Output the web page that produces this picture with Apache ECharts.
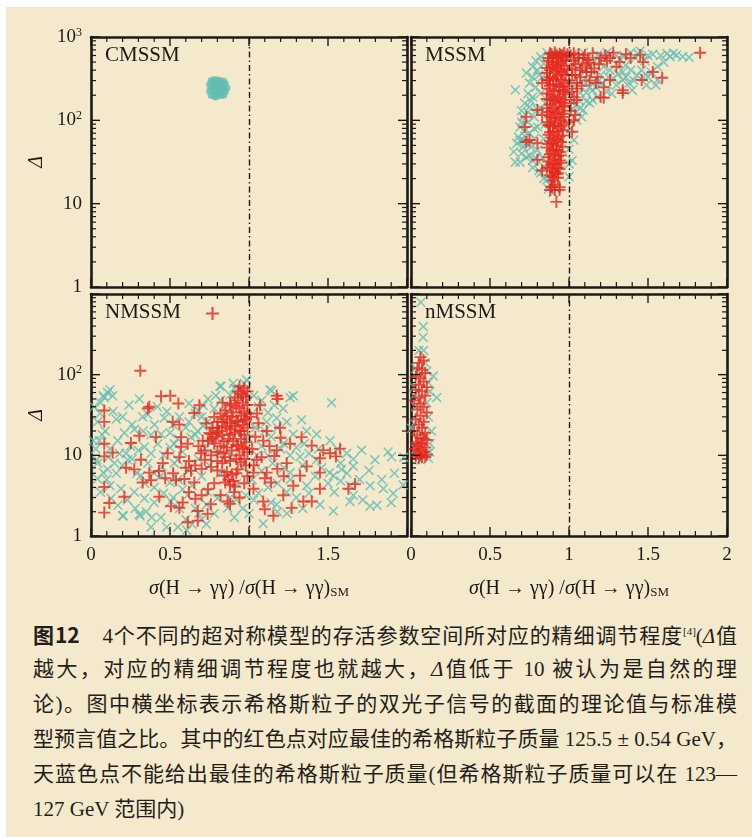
<!DOCTYPE html>
<html>
<head>
<meta charset="utf-8">
<script src="https://cdn.jsdelivr.net/npm/echarts@6/dist/echarts.min.js"></script>
<style>
  html, body { margin: 0; padding: 0; background: #fff; }
  #bg { position: absolute; left: 6px; top: 7px; width: 746px; height: 830px; background: #f4e9cd; }
  #chart { position: absolute; left: 0; top: 0; width: 752px; height: 600px; }
  #cap { position: absolute; left: 33px; top: 617px; width: 704px; color: #231e1a;
         font-family: "Liberation Serif", "Noto Sans CJK SC"; font-size: 21px; }
  #cap div { height: 35px; line-height: 35px; white-space: nowrap; text-align: justify; text-align-last: justify; }
  #cap div.last { text-align-last: left; }
  #cap b { font-family: "Noto Sans CJK SC"; font-weight: 700; }
  #cap sup { font-size: 11px; line-height: 0; }
</style>
</head>
<body>
<div id="bg"></div>
<div id="chart"></div>
<div id="cap">
  <div><b>图12</b>　4个不同的超对称模型的存活参数空间所对应的精细调节程度<sup>[4]</sup>(<i>Δ</i>值</div>
  <div>越大，对应的精细调节程度也就越大，<i>Δ</i>值低于 10 被认为是自然的理</div>
  <div>论)。图中横坐标表示希格斯粒子的双光子信号的截面的理论值与标准模</div>
  <div>型预言值之比。其中的红色点对应最佳的希格斯粒子质量 125.5 ± 0.54 GeV，</div>
  <div>天蓝色点不能给出最佳的希格斯粒子质量(但希格斯粒子质量可以在 123—</div>
  <div class="last">127 GeV 范围内)</div>
</div>
<script>
// 刻度
var xTickValues = [0, 0.5, 1, 1.5, 2];
var xMinorValues = [0.1, 0.2, 0.3, 0.4, 0.6, 0.7, 0.8, 0.9, 1.1, 1.2, 1.3, 1.4, 1.6, 1.7, 1.8, 1.9];
var xLabelsLeft = ['0', '0.5', '', '1.5', ''];
var xLabelsRight = ['0', '0.5', '1', '1.5', '2'];
var yTickValues = [1, 10, 100, 1000];
var yMinorValues = [2, 3, 4, 5, 6, 7, 8, 9, 20, 30, 40, 50, 60, 70, 80, 90, 200, 300, 400, 500, 600, 700, 800, 900];
var yLabelsTop = ['1', '10', '10{s|2}', '10{s|3}'];
var yLabelsBottom = ['1', '10', '10{s|2}', ''];

// 数据 [σ/σSM, Δ]
var sky_CMSSM = [[0.76,300],[0.78,310],[0.80,305],[0.82,300],[0.84,295],[0.75,270],[0.77,280],[0.79,275],[0.81,285],[0.83,270],
  [0.85,275],[0.76,245],[0.78,255],[0.80,250],[0.82,240],[0.84,250],[0.86,245],[0.75,225],[0.77,220],[0.79,230],[0.81,215],
  [0.83,225],[0.85,220],[0.76,200],[0.78,195],[0.80,205],[0.82,198],[0.84,200],[0.79,190],[0.81,235]];

var sky_MSSM = [[0.73,370],[0.77,440],[0.82,580],[0.86,650],[0.75,280],[0.77,190],[0.75,145],[0.71,110],[0.69,83],[0.68,63],
  [0.67,53],[0.65,42],[0.66,31.5],[0.69,31.5],[0.66,232],[0.77,27],[0.82,23.4],[0.86,19.2],[0.90,13.5],[0.91,15.4],[0.80,44],
  [0.83,36],[0.71,48],[0.75,70],[0.80,83],[0.80,133],[0.82,210],[0.83,330],[0.90,610],[0.94,650],[0.72,160],[0.74,95],[0.72,65],
  [0.70,40],[0.73,36],[0.78,60],[0.78,110],[0.79,250],[0.80,400],[0.84,480],[0.76,48],[0.84,28],[0.88,17],[0.79,35],[0.74,210],
  [0.70,130],[0.85,160],[0.85,90],[0.70,95],[0.72,75],[0.74,125],[0.76,170],[0.77,330],[0.79,520],[0.81,350],[0.73,52],
  [0.75,38],[0.77,33],[0.69,57],[0.71,58],[0.78,80],[0.82,140],[0.84,60],[0.81,25],[0.84,20],[0.87,15],
  [1.02,133],[1.03,58],[1.02,33],[1.0,21],[1.06,175],[1.11,215],[1.15,175],[1.07,215],[1.09,305],
  [1.13,250],[1.13,440],[1.22,440],[1.26,400],[1.34,380],[1.09,650],[1.18,610],[1.24,650],[1.32,540],[1.39,650],[1.45,680],
  [1.39,400],[1.43,350],[1.34,305],[1.30,265],[1.24,220],[1.18,190],[1.13,162],[1.09,133],[1.05,100],[1.40,230],[1.49,265],
  [1.55,265],[1.47,330],[1.56,440],[1.60,500],[1.64,580],[1.68,610],[1.72,580],[1.76,570],[1.56,305],[1.01,80],[1.04,150],
  [1.00,45],[1.08,110],[1.12,300],[1.16,520],[1.20,350],[1.28,320],[1.36,460],[1.42,560],[1.50,600],[1.53,620],[1.30,600],
  [1.05,500],[1.02,620],[1.21,280],[1.27,210],[1.17,250],[1.10,380],[1.52,380],[1.48,520],[1.38,280],[1.00,30],[1.03,260],
  [1.20,600],[1.26,620],[1.35,590],[1.44,620],[1.58,600],[1.62,630],[1.66,640],[1.46,400],[1.50,330],[1.41,300],[1.36,330],
  [1.31,360],[1.25,330],[1.19,300],[1.15,230],[1.11,170],[1.07,140]];

var red_MSSM = [[0.88,640],[0.91,655],[0.94,630],[0.97,645],[0.99,620],[0.90,580],[0.93,560],[0.96,590],[0.87,520],[0.92,500],
  [0.95,480],[0.98,530],[0.89,440],[0.94,420],[0.97,450],[0.91,390],[0.86,370],[0.96,360],[0.99,400],[0.88,330],[0.92,310],
  [0.95,300],[0.90,270],[0.94,255],[0.97,280],[0.87,240],[0.91,225],[0.96,215],[0.89,200],[0.93,190],[0.98,205],[0.86,180],
  [0.91,170],[0.95,165],[0.88,155],[0.97,150],[0.90,140],[0.94,135],[0.87,125],[0.92,118],[0.96,120],[0.89,108],[0.95,100],
  [0.86,95],[0.91,92],[0.97,90],[0.88,84],[0.93,80],[0.96,76],[0.90,72],[0.87,67],[0.94,64],[0.91,60],[0.88,56],[0.95,55],
  [0.92,50],[0.86,47],[0.90,45],[0.94,42],[0.88,39],[0.93,37],[0.91,34],[0.87,32],[0.95,31],[0.89,29],[0.93,27],[0.90,25],
  [0.92,23],[0.88,22],[0.92,10.5],[0.88,14.6],[0.94,14.6],[0.91,17],[0.90,19],[0.93,20.5],[0.89,16],
  [0.89,620],[0.92,600],[0.95,610],[0.98,580],[0.87,560],[0.90,470],[0.93,460],[0.96,520],[0.88,400],[0.92,420],[0.95,380],
  [0.98,350],[0.87,300],[0.90,320],[0.93,340],[0.96,250],[0.99,260],[0.88,260],[0.92,270],[0.94,230],[0.97,230],[0.86,210],
  [0.90,190],[0.94,180],[0.97,175],[0.88,175],[0.92,160],[0.96,145],[0.86,140],[0.89,130],[0.93,125],[0.97,110],[0.88,112],
  [0.91,105],[0.94,96],[0.87,88],[0.90,86],[0.95,85],[0.92,74],[0.88,72],[0.96,66],[0.89,62],[0.93,58],[0.87,52],[0.90,53],
  [0.96,48],[0.92,44],[0.89,43],[0.95,38],[0.87,36],[0.91,39],[0.94,33],[0.90,30],[0.88,27],[0.92,30],[0.94,26],[0.91,24],
  [0.89,21],[0.93,23],[0.90,21],
  [0.72,83],[0.75,58],[0.80,133],[0.83,280],[0.86,425],[0.90,560],[0.83,25],[0.91,14.6],[0.94,15.8],[0.89,15.8],[0.73,110],
  [0.73,55],[0.80,53],[0.80,33.5],[0.86,27],[0.83,116],[0.86,305],[0.90,500],
  [1.06,560],[1.13,490],[1.20,560],[1.28,650],[1.11,380],[1.05,280],[1.05,175],[1.04,116],[1.18,330],[1.22,250],[1.26,305],
  [1.30,440],[1.39,560],[1.45,610],[1.47,500],[1.34,230],[1.20,190],[1.02,73],[1.83,646],[1.59,324],[1.46,305],[1.53,380],
  [1.34,213],[1.22,186],[1.01,600],[1.03,520],[1.08,430],[1.02,420],[1.10,610],[1.15,640],[1.00,300],[1.02,220],[1.04,350],
  [1.07,330],[1.16,420],[1.24,520],[1.01,160],[1.00,95],[1.03,640],[1.06,620],[1.09,560],[1.12,530],[1.04,470],[1.07,400],
  [1.11,460],[1.14,380],[1.19,470],[1.23,600],[1.26,560],[1.32,500],[1.36,620],[1.02,350],[1.05,240],[1.03,190],[1.08,260],
  [1.13,300],[1.17,280],[1.01,130],[1.03,100]];

var sky_NMSSM = [[0.105,60],[0.084,52],[0.137,54.7],[0.306,50],[0.327,30],[0.211,19],[0.274,21],[0.401,24],[0.464,29],[0.042,26],
  [0.053,15.2],[0.169,15.2],[0.042,8.0],[0.105,6.7],[0.148,8.0],[0.222,10.6],[0.232,8.8],[0.338,12.7],[0.380,10.6],[0.422,13.9],
  [0.443,18.3],[0.527,13.9],[0.042,5.1],[0.190,3.86],[0.200,1.78],[0.306,1.86],[0.380,1.29],[0.443,1.70],[0.506,2.68],[0.612,3.22],
  [0.738,3.5],[0.80,2.93],[0.865,2.23],[0.907,1.70],[0.633,16.7],[0.823,72],[0.907,68],[0.928,54.7],[0.970,78],[0.738,26],
  [0.675,20],[0.549,8.8],[0.316,5.6],[0.274,3.5],[0.127,2.93],[0.338,2.93],[0.527,8.0],[0.443,5.6],[0.886,10.6],[0.949,16.7],
  [0.12,65],[0.078,54.7],[0.057,33],[0.015,15.2],[0.036,8.8],[0.078,6.1],[0.12,4.2],[0.204,1.78],[0.31,1.78],[0.384,1.70],
  [0.479,1.29],[0.55,1.29],[0.606,1.18],[0.732,2.45],[0.816,72],[0.90,78],[0.985,86],[0.94,65],[0.79,55],[0.71,41.7],[0.66,33],
  [0.60,22],[0.71,23],[0.90,24],
  [1.28,54.7],[1.143,63],[1.523,45],[1.333,27.6],[1.713,11.6],[1.797,8.8],[1.903,9.6],[1.66,7.3],[1.766,4.2],[1.85,3.86],
  [1.913,3.37],[1.766,2.34],[1.81,2.4],[1.639,2.68],[1.534,2.04],[1.449,2.45],[1.365,4.2],[1.534,5.6],[1.586,6.7],[1.51,6.1],
  [1.618,10.6],[1.513,15.2],[1.428,18.3],[1.365,20],[1.28,18.3],[1.239,26],[1.217,38],[1.175,29],[1.112,26],[1.26,6.1],
  [1.323,9.6],[1.428,8.8],[1.239,3.5],[1.175,2.45],[1.09,1.42],[1.639,4.2],[1.975,4.3],[1.26,52],[1.133,65],
  [0.55,5.0],[0.62,6.5],[0.68,9.0],[0.72,12],[0.76,15],[0.64,4.2],[0.70,5.5],[0.58,3.8],[0.75,7.5],[0.82,6.0],[0.86,8.5],
  [0.80,11],[0.84,14],[0.92,4.5],[0.96,7],[1.02,5],[1.05,10],[1.08,13],[1.12,4],[1.15,8],[1.20,12],[1.03,2.8],[0.98,3.2],
  [0.88,3.0],[0.66,2.2],[0.70,1.6],[0.78,1.9],[0.50,4.6],[0.45,7.2],[0.40,4.0],[0.36,8.0],[0.30,11.5],[0.25,13],[0.18,10.5],
  [0.12,12],[0.09,20],[0.16,28],[0.24,42],[0.38,18],[0.50,19],[0.56,30],[0.62,44],[0.68,36],[0.74,50],[0.86,40],[1.06,40],
  [1.10,20],[1.00,16],[0.96,28],[1.35,14],[1.44,12],[1.58,8],[1.70,5.0],[1.90,2.6],[1.98,9.5],
  [0.02,40],[0.06,45],[0.14,35],[0.20,30],[0.26,24],[0.33,20],[0.36,32],[0.42,40],[0.48,35],[0.52,24],[0.03,12],[0.07,18],
  [0.11,9.5],[0.16,6.0],[0.20,7.5],[0.26,9.0],[0.29,6.0],[0.34,4.5],[0.40,6.0],[0.46,10.0],[0.50,12.5],[0.55,16.0],[0.58,11.0],
  [0.06,3.5],[0.10,5.0],[0.17,2.4],[0.23,2.8],[0.28,2.2],[0.35,2.0],[0.40,2.6],[0.46,3.4],[0.52,3.0],[0.56,2.2],[0.60,1.6],
  [0.64,1.4],[0.68,1.9],[0.73,1.4],[0.62,26],[0.66,18],[0.70,30],[0.78,38],[0.82,48],[0.88,56],[0.98,62],[1.03,55],[1.08,48],
  [1.12,34],[1.16,42],[1.04,22],[1.14,17],[1.18,22],[1.22,14],[1.26,10],[1.30,12.5],[1.34,7.5],[1.38,10.5],[1.42,5.5],
  [1.46,7.0],[1.50,4.5],[1.54,3.5],[1.58,4.8],[1.62,6.0],[1.66,3.2],[1.72,2.8],[1.30,3.0],[1.34,2.2],[1.24,1.9],[1.18,2.0],
  [1.14,2.6],[1.06,3.4],[1.00,1.9],[0.96,2.2],[0.92,2.8],[1.08,6.4],[1.12,10],[1.18,4.5],[1.26,5.0],[1.22,7.0],[1.38,3.4],
  [1.56,12],[1.66,9],[1.76,6.5],[1.84,5.0],[1.92,6.0],[1.88,11]];

var red_NMSSM = [[0.312,112],[0.084,36],[0.084,26],[0.443,54],[0.502,54.7],[0.553,44],[0.359,38],[0.369,40],[0.517,26],[0.559,24],
  [0.686,41.7],[0.654,33.4],[0.084,13.9],[0.084,9.7],[0.137,10.8],[0.306,17.5],[0.253,14.2],[0.411,16.8],[0.570,16.8],[0.570,12.8],
  [0.316,8.8],[0.222,7.0],[0.274,6.7],[0.369,6.1],[0.454,8.0],[0.485,10.6],[0.327,4.6],[0.380,4.9],[0.084,4.05],[0.211,3.07],
  [0.432,3.07],[0.116,2.56],[0.084,1.95],[0.506,2.34],[0.559,2.23],[0.612,1.48],[0.675,1.55],[0.675,2.04],[0.759,2.47],[0.738,1.88],
  [0.633,6.45],[0.696,10.6],[0.612,13.9],[0.707,15.2],[0.759,18.3],[0.80,22],[0.833,45],[0.886,41.7],[0.844,5.6],[0.865,2.68],
  [0.907,3.5],[0.538,4.9],[0.591,5.1],[0.654,4.6],[0.928,6.7],
  [1.175,54.7],[1.18,50],[1.07,41.7],[1.05,33],[1.196,22],[1.333,16.8],[1.397,13.2],[1.47,11.6],[1.576,12.1],[1.55,9.7],
  [1.449,9.2],[1.365,7.3],[1.449,6.1],[1.323,5.6],[1.449,3.86],[1.629,3.86],[1.671,4.4],[1.28,4.2],[1.217,3.2],[1.344,2.68],
  [1.397,2.68],[1.27,2.23],[1.154,1.78],[1.09,2.68],[1.10,2.15],[1.112,6.1],[1.239,8],[1.175,11.6],[1.09,15.2],[1.112,20],
  [1.049,8.8],[1.028,6.1],[1.028,3.86],[1.513,10.6],[1.26,13.9],
  [0.94,72],[0.97,68],[0.99,62],[0.95,58],[0.98,52],[0.93,48],[0.96,45],[0.99,42],[0.94,38],[0.97,35],[0.95,31],[0.98,28],
  [0.93,26],[0.96,24],[0.99,22],[0.94,20],[0.97,18],[0.95,16],[0.98,14.5],[0.93,13],[0.96,12],[0.99,11],[0.94,10],[0.97,9],
  [0.95,8.2],[0.98,7.5],
  [0.78,30],[0.82,33],[0.86,31],[0.90,34],[0.80,26],[0.84,28],[0.88,25],[0.92,27],[0.77,22],[0.81,20],[0.85,23],[0.89,21],
  [0.91,19],[0.79,17],[0.83,18],[0.87,16],[0.90,15],[0.78,14],[0.82,13],[0.86,12.5],[0.89,11.5],[0.80,11],[0.84,10.5],
  [0.92,13.5],[0.75,19],[0.73,25],[0.74,15],
  [0.86,6.2],[0.89,5.8],[0.92,6.0],[0.87,5.0],[0.90,4.8],[0.88,4.3],[0.91,4.1],[0.85,4.6],
  [0.62,8.5],[0.66,7.5],[0.70,6.8],[0.72,8.8],[0.76,7.2],[0.80,6.5],[0.83,8.0],[0.78,4.5],[0.74,3.8],[0.70,3.2],[0.66,2.9],
  [0.62,3.5],[0.58,2.6],[0.82,3.2],[0.88,2.5],[0.94,3.0],[0.97,4.5],[0.99,5.5],[0.60,7.0],[0.56,9.5],[0.52,6.0],[0.47,5.2],
  [0.43,6.4],[1.02,12],[1.04,17],[1.06,25],[1.01,30],[1.08,9.5],[1.03,7.5],[1.10,5.2],[1.14,4.6],[1.18,6.8],[1.22,5.5],
  [1.16,9.8],[1.13,13],[1.20,16.5],
  [0.85,36],[0.88,44],[0.91,52],[0.93,62],[0.96,55],[0.92,40],[0.89,30],[0.86,22],[0.83,26],[0.80,19],[0.77,16],[0.84,15],
  [0.88,18],[0.91,23],[0.95,20],[0.97,27],[0.99,33],[0.97,12.5],[0.92,9],[0.88,8.5],[0.85,9.5],[0.80,8.5],[0.76,10],
  [0.72,11.5],[0.68,13]];

var sky_nMSSM = [[0.062,790],[0.078,395],[0.077,290],[0.05,200],[0.08,200],[0.141,96],[0.163,52],[0.12,62],[0.004,21.6],
  [0.03,120],[0.10,110],[0.11,80],[0.02,70],[0.10,45],[0.03,40],[0.11,30],[0.02,25],[0.09,18],[0.12,14],[0.03,12],[0.10,10.5],
  [0.11,9.2],[0.06,8.8],[0.02,55],[0.09,140],[0.13,20],[0.12,11]];

var red_nMSSM = [[0.06,165],[0.05,140],[0.08,150],[0.04,120],[0.07,115],[0.09,105],[0.03,95],[0.06,90],[0.08,82],[0.05,75],
  [0.10,70],[0.03,65],[0.07,62],[0.09,55],[0.05,52],[0.02,48],[0.06,44],[0.08,40],[0.04,37],[0.10,34],[0.06,31],[0.03,28],
  [0.08,26],[0.05,24],[0.07,22],[0.02,20],[0.09,19],[0.04,18],[0.06,16.5],[0.10,15.5],[0.03,14.5],[0.07,14],[0.05,13],
  [0.09,12.5],[0.02,12],[0.06,11.5],[0.08,11],[0.04,10.5],[0.10,10.2],[0.03,9.8],[0.07,9.5],[0.05,9.2],[0.09,9.6],[0.06,10],
  [0.04,13.8],[0.08,16]];

var SKY = '#62bdb3', RED = '#e5281f', INK = '#1c1a18';
var SERIF = '"Liberation Serif", serif';
var plusPath = 'path://M4.2,0H5.8V4.2H10V5.8H5.8V10H4.2V5.8H0V4.2H4.2Z';
var crossPath = 'path://M0,1.1L1.1,0L5,3.9L8.9,0L10,1.1L6.1,5L10,8.9L8.9,10L5,6.1L1.1,10L0,8.9L3.9,5Z';

var grids = [
  { left: 91, top: 37, width: 316, height: 250 },
  { left: 411, top: 37, width: 316, height: 250 },
  { left: 91, top: 294, width: 316, height: 252 },
  { left: 411, top: 294, width: 316, height: 252 }
];
var panelNames = ['CMSSM', 'MSSM', 'NMSSM', 'nMSSM'];

var xAxes = [], yAxes = [];
grids.forEach(function (g, i) {
  var bottomRow = i >= 2, leftCol = i % 2 === 0;
  var xl = leftCol ? xLabelsLeft : xLabelsRight;
  ['bottom', 'top'].forEach(function (pos) {
    var withLabel = pos === 'bottom' && bottomRow;
    var ax = {
      type: 'value', gridIndex: i, position: pos, min: 0, max: 2, interval: 0.5,
      axisLine: { show: true, onZero: false, lineStyle: { color: INK, width: 2.6 } },
      axisTick: { show: false }, minorTick: { show: false },
      splitLine: { show: false },
      axisLabel: { show: withLabel, margin: 10, color: INK, fontFamily: SERIF, fontSize: 19 }
    };
    if (withLabel) {
      ax.axisLabel.formatter = function (v) { return xl[xTickValues.indexOf(v)] || ''; };
      ax.name = '{i|σ}(H → γγ) /{i|σ}(H → γγ){sub|SM}';
      ax.nameLocation = 'middle';
      ax.nameGap = 42;
      ax.nameTextStyle = { color: INK, fontFamily: SERIF, fontSize: 20,
        rich: { i: { fontStyle: 'italic', fontFamily: SERIF, fontSize: 20, color: INK },
                sub: { fontFamily: SERIF, fontSize: 13, color: INK, verticalAlign: 'bottom', padding: [8, 0, 0, 0] } } };
    }
    xAxes.push(ax);
  });
  var yl = i === 0 ? yLabelsTop : yLabelsBottom;
  ['left', 'right'].forEach(function (pos) {
    var withLabel = pos === 'left' && leftCol;
    var ay = {
      type: 'log', logBase: 10, gridIndex: i, position: pos, min: 1, max: 1000,
      axisLine: { show: true, onZero: false, lineStyle: { color: INK, width: 2.6 } },
      axisTick: { show: false }, minorTick: { show: false },
      splitLine: { show: false },
      axisLabel: { show: withLabel, margin: 9, color: INK, fontFamily: SERIF, fontSize: 19 }
    };
    if (withLabel) {
      ay.axisLabel.formatter = function (v) { return yl[yTickValues.indexOf(Math.round(v))] || ''; };
      ay.axisLabel.rich = { s: { fontFamily: SERIF, fontSize: 12, color: INK, verticalAlign: 'top', padding: [0, 0, 9, 0] } };
      ay.name = 'Δ';
      ay.nameLocation = 'middle';
      ay.nameGap = 44;
      ay.nameRotate = 90;
      ay.nameTextStyle = { color: INK, fontFamily: SERIF, fontSize: 20, fontStyle: 'italic' };
    }
    yAxes.push(ay);
  });
});

function dashLine() {
  return {
    silent: true, symbol: 'none', label: { show: false },
    lineStyle: { color: INK, width: 1.4, type: [6, 3, 1.5, 3] },
    data: [{ xAxis: 1 }]
  };
}
function skySeries(name, data, gi, size, symbol) {
  return { name: name, type: 'scatter', xAxisIndex: gi * 2, yAxisIndex: gi * 2, data: data,
    symbol: symbol || crossPath, symbolSize: size || 10, itemStyle: { color: SKY },
    markLine: dashLine() };
}
function redSeries(name, data, gi) {
  return { name: name, type: 'scatter', xAxisIndex: gi * 2, yAxisIndex: gi * 2, data: data,
    symbol: plusPath, symbolSize: 12, itemStyle: { color: RED } };
}

var chart = echarts.init(document.getElementById('chart'));
chart.setOption({
  animation: false,
  grid: grids,
  xAxis: xAxes,
  yAxis: yAxes,
  legend: {
    data: [{ name: 'NMSSM 红色点', icon: plusPath }],
    left: 206, top: 307, padding: 0, itemWidth: 13, itemHeight: 13, selectedMode: false,
    formatter: function () { return ''; }
  },
  series: [
    skySeries('CMSSM 天蓝色点', sky_CMSSM, 0, 7, 'circle'),
    skySeries('MSSM 天蓝色点', sky_MSSM, 1),
    redSeries('MSSM 红色点', red_MSSM, 1),
    skySeries('NMSSM 天蓝色点', sky_NMSSM, 2),
    redSeries('NMSSM 红色点', red_NMSSM, 2),
    skySeries('nMSSM 天蓝色点', sky_nMSSM, 3),
    redSeries('nMSSM 红色点', red_nMSSM, 3)
  ]
});

// 四边朝内的刻度: 位置由坐标轴换算 (convertToPixel)
var marks = panelNames.map(function (n, i) {
  return { type: 'text', left: grids[i].left + 14, top: grids[i].top + 8, z: 20,
    style: { text: n, font: '21px ' + SERIF, fill: INK } };
});
function tick(x1, y1, x2, y2, w) {
  marks.push({ type: 'line', silent: true, z: 20,
    shape: { x1: x1, y1: y1, x2: x2, y2: y2 }, style: { stroke: INK, lineWidth: w } });
}
grids.forEach(function (g, i) {
  var finder = { xAxisIndex: i * 2, yAxisIndex: i * 2 };
  function px(v) { return chart.convertToPixel(finder, v); }
  [[xTickValues, 9, 1.4], [xMinorValues, 5, 1.2]].forEach(function (set) {
    set[0].forEach(function (xv) {
      var b = px([xv, 1]), t = px([xv, 1000]);
      tick(b[0], b[1], b[0], b[1] - set[1], set[2]);
      tick(t[0], t[1], t[0], t[1] + set[1], set[2]);
    });
  });
  [[yTickValues, 9, 1.4], [yMinorValues, 5, 1.2]].forEach(function (set) {
    set[0].forEach(function (yv) {
      var l = px([0, yv]), r = px([2, yv]);
      tick(l[0], l[1], l[0] + set[1], l[1], set[2]);
      tick(r[0], r[1], r[0] - set[1], r[1], set[2]);
    });
  });
});
chart.setOption({ graphic: marks });
</script>
</body>
</html>
